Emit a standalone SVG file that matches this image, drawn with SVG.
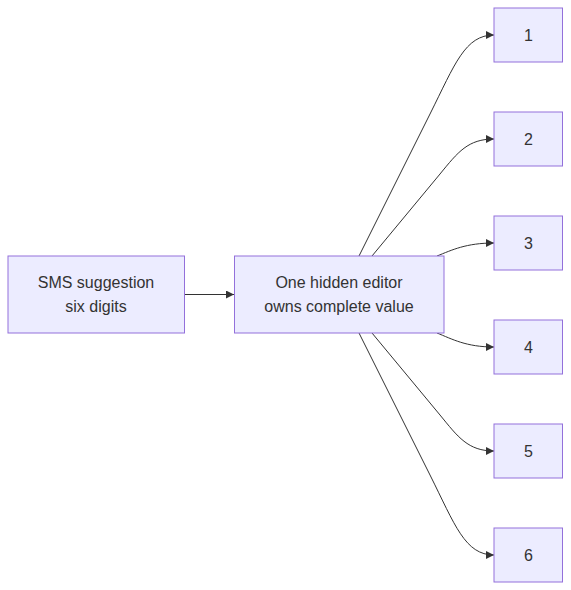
<svg xmlns="http://www.w3.org/2000/svg" width="571" height="590" viewBox="0 0 571 590">
<style>
.node rect{fill:#ECECFF;stroke:#9370DB;stroke-width:1}
.node text{font-family:"Liberation Sans",Arial,sans-serif;font-size:16px;fill:#333;text-anchor:middle}
.edge{fill:none;stroke:#333;stroke-width:1;marker-end:url(#arrow)}
</style>
<defs>
<marker id="arrow" viewBox="0 0 10 10" refX="10" refY="5" markerUnits="userSpaceOnUse" markerWidth="8" markerHeight="8" orient="auto">
<path d="M0,0 L10,5 L0,10 z" fill="#333"/>
</marker>
</defs>
<rect width="571" height="590" fill="#fff"/>
<g id="connectors">
<path class="edge" d="M184.5,294.5 L234,294.5"/>
<path class="edge" d="M359,256 L430,114 C455,64 465,35 494,35"/>
<path class="edge" d="M372,256 L440,174 C458,152 468,139 494,139"/>
<path class="edge" d="M437,256 C452,250 466,243 494,243"/>
<path class="edge" d="M437,333 C452,339 466,347 494,347"/>
<path class="edge" d="M372,333 L440,415 C458,437 468,451 494,451"/>
<path class="edge" d="M359,333 L430,475 C455,525 465,555 494,555"/>
</g>
<g id="sms" class="node">
<rect x="8" y="256" width="176.5" height="77"/>
<text x="96" y="288">SMS suggestion</text>
<text x="96" y="312">six digits</text>
</g>
<g id="editor" class="node">
<rect x="234.5" y="256" width="209.5" height="77"/>
<text x="339" y="288">One hidden editor</text>
<text x="339" y="312">owns complete value</text>
</g>
<g id="d1" class="node"><rect x="494" y="8" width="68.5" height="54"/><text x="528.5" y="41">1</text></g>
<g id="d2" class="node"><rect x="494" y="112" width="68.5" height="54"/><text x="528.5" y="145">2</text></g>
<g id="d3" class="node"><rect x="494" y="216" width="68.5" height="54"/><text x="528.5" y="249">3</text></g>
<g id="d4" class="node"><rect x="494" y="320" width="68.5" height="54"/><text x="528.5" y="353">4</text></g>
<g id="d5" class="node"><rect x="494" y="424" width="68.5" height="54"/><text x="528.5" y="457">5</text></g>
<g id="d6" class="node"><rect x="494" y="528" width="68.5" height="54"/><text x="528.5" y="561">6</text></g>
</svg>
